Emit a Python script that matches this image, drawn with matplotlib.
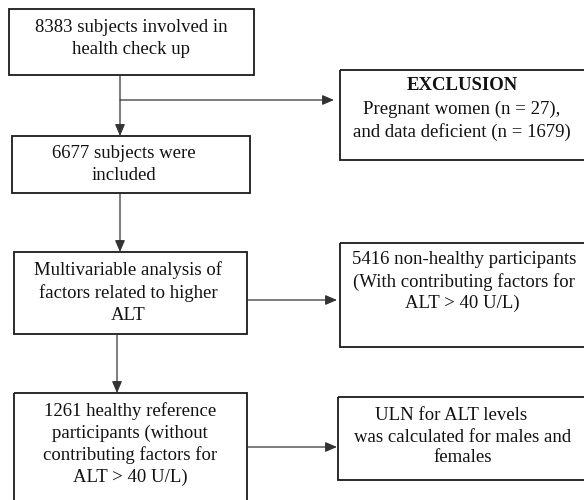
import matplotlib
matplotlib.use("Agg")
import matplotlib.pyplot as plt
from matplotlib.patches import Rectangle, FancyArrowPatch

plt.rcParams['font.family'] = ['Liberation Serif', 'DejaVu Serif']

# box outlines in pixel coords: (x0, y0, x1, y1)
boxes = [
    (9, 9, 254, 75),
    (340, 70, 600, 160),
    (12, 136, 250, 193),
    (14, 252, 247, 334),
    (340, 243, 600, 347),
    (14, 393, 247, 520),
    (338, 397, 600, 480),
]

# text lines for each box: (x centre, y centre, text, bold)
labels = [
    (131, 27, "8383 subjects involved in", False),
    (131, 50, "health check up", False),
    (462, 86, "EXCLUSION", True),
    (462, 109, "Pregnant women (n = 27),", False),
    (462, 132, "and data deficient (n = 1679)", False),
    (124, 153, "6677 subjects were", False),
    (124, 175, "included", False),
    (128, 270, "Multivariable analysis of", False),
    (128, 293, "factors related to higher", False),
    (128, 315, "ALT", False),
    (464, 260, "5416 non-healthy participants", False),
    (464, 282, "(With contributing factors for", False),
    (462, 303, "ALT > 40 U/L)", False),
    (130, 411, "1261 healthy reference", False),
    (130, 433, "participants (without", False),
    (130, 455, "contributing factors for", False),
    (130, 477, "ALT > 40 U/L)", False),
    (451, 416, "ULN for ALT levels", False),
    (463, 438, "was calculated for males and", False),
    (463, 458, "females", False),
]

# connectors: (start, end, arrowhead?)
arrows = [
    ((120, 75), (120, 136), True),
    ((120, 100), (334, 100), True),
    ((120, 193), (120, 252), True),
    ((247, 300), (337, 300), True),
    ((117, 334), (117, 393), True),
    ((247, 447), (337, 447), True),
]

fig = plt.figure(figsize=(5.84, 5.0), dpi=100)
ax = fig.add_axes([0, 0, 1, 1])
ax.set_xlim(0, 584)
ax.set_ylim(500, 0)
ax.axis('off')

for x0, y0, x1, y1 in boxes:
    ax.add_patch(Rectangle((x0, y0), x1 - x0, y1 - y0, fill=False,
                           edgecolor='#1a1a1a', linewidth=1.3))

for x, y, s, bold in labels:
    ax.text(x, y, s, ha='center', va='center', fontsize=13.5,
            fontweight='bold' if bold else 'normal', color='#111111')

for (xa, ya), (xb, yb), head in arrows:
    ax.add_patch(FancyArrowPatch((xa, ya), (xb, yb),
                                 arrowstyle='-|>,head_length=0.7,head_width=0.3',
                                 mutation_scale=10, color='#333333',
                                 linewidth=0.9, shrinkA=0, shrinkB=0))

fig.savefig('out.png', dpi=100)
